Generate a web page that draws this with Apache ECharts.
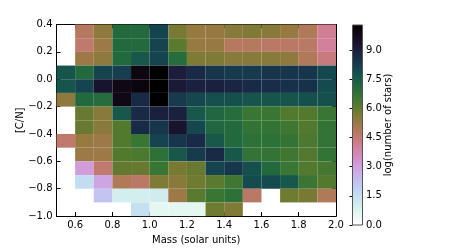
<!DOCTYPE html>
<html><head><meta charset="utf-8">
<script src="https://cdn.jsdelivr.net/npm/echarts@6/dist/echarts.min.js"></script>
<style>html,body{margin:0;padding:0;background:#fff}#c{width:450px;height:250px}</style>
</head><body><div id="c"></div><script>
// Bin lower edges
const massBinStarts = [0.5,0.6,0.7,0.8,0.9,1.0,1.1,1.2,1.3,1.4,1.5,1.6,1.7,1.8,1.9];
const cnBinStarts = [0.3,0.2,0.1,0.0,-0.1,-0.2,-0.3,-0.4,-0.5,-0.6,-0.7,-0.8,-0.9,-1.0];
// log(number of stars) per [C/N] bin, one value per mass bin (null = empty)
const cn_p03 = [null,4.8,5.4,7.1,7.1,8.1,5.7,5.3,5.3,5.5,5.6,5.5,5.3,4.9,4.1];
const cn_p02 = [null,4.6,5.2,7.1,7.1,8.1,6.1,5.3,5.3,4.8,4.8,4.7,4.7,4.7,4.0];
const cn_p01 = [null,5.2,5.4,7.1,7.6,8.1,7.0,5.6,5.6,5.5,5.5,5.5,5.4,4.9,4.4];
const cn_p00 = [7.7,7.1,8.1,8.2,9.9,10.3,9.0,8.7,8.4,8.3,8.3,8.4,8.4,8.4,8.0];
const cn_m01 = [7.7,8.1,9.3,9.8,10.0,10.3,9.1,8.9,8.9,8.8,8.7,8.6,8.5,8.5,7.9];
const cn_m02 = [5.4,7.1,7.0,9.8,8.7,10.3,8.3,8.0,7.8,7.8,7.7,7.7,7.7,7.8,7.8];
const cn_m03 = [null,5.9,5.5,7.6,8.7,8.9,8.9,7.6,7.2,7.0,6.6,6.6,6.2,6.2,6.6];
const cn_m04 = [null,5.9,5.5,6.2,8.7,8.4,9.3,8.0,7.2,7.1,6.7,6.7,6.5,6.2,6.7];
const cn_m05 = [4.6,5.3,5.2,6.2,6.6,8.1,8.4,8.7,7.6,7.1,6.8,6.8,6.7,6.3,6.7];
const cn_m06 = [null,5.2,5.2,6.2,6.3,6.8,7.6,8.3,8.7,7.6,6.7,6.7,6.5,6.2,6.7];
const cn_m07 = [null,3.1,4.6,6.0,5.9,6.6,5.7,5.9,8.1,8.4,7.8,7.1,6.6,6.2,6.4];
const cn_m08 = [null,1.6,2.9,4.9,4.7,5.6,5.5,5.8,6.1,6.5,7.9,7.9,7.6,6.6,6.2];
const cn_m09 = [null,null,2.2,1.0,1.0,1.1,5.2,6.1,6.6,6.8,4.7,null,5.8,5.7,4.9];
const cn_m10 = [null,null,null,null,1.5,0.6,0.6,0.6,5.8,5.6,null,null,null,null,null];
const logCountRows = [cn_p03,cn_p02,cn_p01,cn_p00,cn_m01,cn_m02,cn_m03,cn_m04,cn_m05,cn_m06,cn_m07,cn_m08,cn_m09,cn_m10];
const colorbarMin = 0, colorbarMax = 10.3, colorbarStep = 1.5;

const binW = 0.1, binH = 0.1;
const cells = [];
cnBinStarts.forEach((cn, i) => massBinStarts.forEach((m, j) => {
  const v = logCountRows[i][j];
  if (v !== null && v !== undefined) cells.push([m, cn, v]);
}));

// matplotlib cubehelix (gamma=1, s=0.5, r=-1.5, h=1), reversed
function cubehelix(x) {
  const a = x * (1 - x) / 2, phi = 2 * Math.PI * (0.5 / 3 - 1.5 * x);
  const c = Math.cos(phi), s = Math.sin(phi);
  const cl = t => Math.round(255 * Math.max(0, Math.min(1, t)));
  const r = x + a * (-0.14861 * c + 1.78277 * s);
  const g = x + a * (-0.29227 * c - 0.90649 * s);
  const b = x + a * (1.97294 * c);
  return 'rgb(' + cl(r) + ',' + cl(g) + ',' + cl(b) + ')';
}
const N = 64;
const cmapColors = [];
for (let k = 0; k <= N; k++) cmapColors.push(cubehelix(1 - k / N));
const gradStops = cmapColors.map((c, k) => ({offset: k / N, color: c}));

const fmt = v => { if (Math.abs(v) < 1e-9) v = 0; return v.toFixed(1).replace('-', '\u2212'); };
const font = {fontFamily: 'DejaVu Sans', fontSize: 10, color: '#000'};
const line = {onZero: false, lineStyle: {color: '#000', width: 1}};
const tick = {inside: true, length: 4, lineStyle: {color: '#000', width: 1}};

const chart = echarts.init(document.getElementById('c'), null, {renderer: 'canvas'});
chart.setOption({
  animation: false,
  backgroundColor: '#fff',
  grid: [
    {left: 56.5, top: 24.5, width: 279.5, height: 200},
    {left: 352.5, top: 25, width: 10, height: 200}
  ],
  xAxis: [
    {type: 'value', gridIndex: 0, min: 0.5, max: 2.0, splitNumber: 7, position: 'bottom',
     axisLine: line, axisTick: tick, splitLine: {show: false},
     axisLabel: Object.assign({showMinLabel: false, margin: 4, formatter: fmt}, font),
     name: 'Mass (solar units)', nameLocation: 'middle', nameGap: 15, nameTextStyle: font},
    {type: 'value', gridIndex: 0, min: 0.5, max: 2.0, splitNumber: 7, position: 'top',
     axisLine: line, axisTick: tick, splitLine: {show: false}, axisLabel: {show: false}},
    {type: 'value', gridIndex: 1, min: 0, max: 1, show: false}
  ],
  yAxis: [
    {type: 'value', gridIndex: 0, min: -1.0, max: 0.4, interval: 0.2, position: 'left',
     axisLine: line, axisTick: tick, splitLine: {show: false},
     axisLabel: Object.assign({margin: 4, formatter: fmt}, font),
     name: '[C/N]', nameLocation: 'middle', nameGap: 31, nameTextStyle: font, nameMoveOverlap: false},
    {type: 'value', gridIndex: 0, min: -1.0, max: 0.4, interval: 0.2, position: 'right',
     axisLine: line, axisTick: tick, splitLine: {show: false}, axisLabel: {show: false}},
    {type: 'value', gridIndex: 1, min: colorbarMin, max: colorbarMax, interval: colorbarStep, position: 'right',
     axisLine: {show: false}, axisTick: {inside: true, length: 3, lineStyle: {color: '#000'}}, splitLine: {show: false},
     axisLabel: Object.assign({margin: 3.5, showMaxLabel: false, formatter: fmt}, font),
     name: 'log(number of stars)', nameLocation: 'middle', nameGap: 21, nameRotate: 90,
     nameTextStyle: font, nameMoveOverlap: false}
  ],
  visualMap: {type: 'continuous', show: false, min: colorbarMin, max: colorbarMax, dimension: 2,
    seriesIndex: 0, inRange: {color: cmapColors}},
  series: [
    {type: 'custom', xAxisIndex: 0, yAxisIndex: 0, data: cells, encode: {x: 0, y: 1},
     renderItem: (params, api) => {
       const x0 = api.value(0), y0 = api.value(1);
       const p0 = api.coord([x0, y0 + binH]);
       const p1 = api.coord([x0 + binW, y0]);
       return {type: 'rect', shape: {x: p0[0], y: p0[1], width: p1[0] - p0[0], height: p1[1] - p0[1]},
               style: {fill: api.visual('color')}};
     }},
    {type: 'custom', xAxisIndex: 2, yAxisIndex: 2, data: [[0, colorbarMin]],
     renderItem: (params, api) => {
       const p0 = api.coord([0, colorbarMax]);
       const p1 = api.coord([1, colorbarMin]);
       return {type: 'rect', shape: {x: p0[0], y: p0[1], width: p1[0] - p0[0], height: p1[1] - p0[1]},
               style: {fill: new echarts.graphic.LinearGradient(0, 1, 0, 0, gradStops), stroke: '#555', lineWidth: 1}};
     }}
  ]
});
</script></body></html>
